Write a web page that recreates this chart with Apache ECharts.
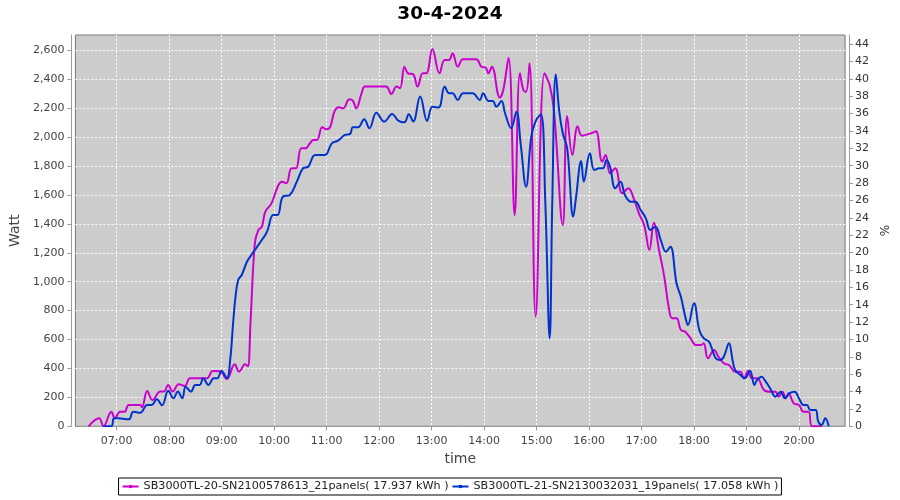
<!DOCTYPE html>
<html><head><meta charset="utf-8">
<script src="https://cdn.jsdelivr.net/npm/echarts@6/dist/echarts.min.js"></script>
<style>html,body{margin:0;padding:0;background:#fff}#c{width:900px;height:500px}</style>
</head><body><div id="c"></div>
<script>
const chartTitle = '30-4-2024';
const seriesNames = ['SB3000TL-20-SN2100578613_21panels( 17.937 kWh )', 'SB3000TL-21-SN2130032031_19panels( 17.058 kWh )'];
const hourTicks = ['07:00','08:00','09:00','10:00','11:00','12:00','13:00','14:00','15:00','16:00','17:00','18:00','19:00','20:00'];
const wattTicks = [0,200,400,600,800,1000,1200,1400,1600,1800,2000,2200,2400,2600];
const pctTicks = [0,2,4,6,8,10,12,14,16,18,20,22,24,26,28,30,32,34,36,38,40,42,44];

const magentaTimes = ['06:28','06:40','06:45','06:54','06:58','07:04','07:09','07:14','07:27','07:29','07:35','07:41','07:50','07:54','07:59','08:04','08:11','08:18','08:24','08:43','08:50','08:58','09:06','09:15','09:20','09:27','09:30','09:33','09:38','09:42','09:46','09:50','09:57','10:05','10:09','10:14','10:20','10:25','10:31','10:36','10:41','10:45','10:49','10:55','11:00','11:04','11:09','11:14','11:19','11:26','11:30','11:34','11:40','11:44','12:08','12:14','12:20','12:24','12:29','12:33','12:39','12:44','12:50','12:54','13:01','13:09','13:15','13:20','13:24','13:30','13:36','13:51','13:57','14:02','14:05','14:09','14:18','14:22','14:28','14:35','14:41','14:45','14:48','14:52','14:59','15:09','15:15','15:20','15:30','15:35','15:41','15:47','15:52','16:04','16:08','16:15','16:19','16:24','16:30','16:38','16:45','16:51','16:57','17:03','17:09','17:14','17:20','17:26','17:31','17:35','17:40','17:45','17:50','17:56','18:02','18:08','18:11','18:16','18:23','18:28','18:34','18:40','18:47','18:53','18:57','19:02','19:06','19:12','19:20','19:27','19:33','19:37','19:41','19:45','19:48','19:54','20:00','20:05','20:11','20:15','20:26'];
const magentaWatts = [0,55,0,100,55,100,100,147,147,131,244,182,240,240,286,240,290,279,332,332,382,380,327,429,378,429,415,712,1266,1357,1380,1484,1542,1669,1692,1680,1784,1784,1923,1923,1957,1980,1980,2068,2054,2068,2176,2206,2199,2261,2252,2199,2303,2349,2349,2298,2349,2338,2487,2441,2434,2349,2441,2441,2609,2441,2533,2533,2580,2487,2538,2538,2487,2480,2441,2487,2273,2326,2549,1461,2441,2326,2314,2510,758,2441,2360,2176,1392,2145,1876,2075,2010,2030,2040,1830,1876,1750,1784,1611,1646,1577,1473,1392,1219,1408,1219,1035,827,747,747,666,654,609,562,562,574,470,528,481,436,424,378,378,332,385,332,332,251,239,239,205,239,194,228,159,147,101,101,0,0];

const blueTimes = ['06:45','06:54','06:57','07:02','07:14','07:19','07:27','07:35','07:40','07:46','07:52','07:59','08:05','08:10','08:15','08:19','08:25','08:30','08:35','08:39','08:45','08:51','08:55','09:00','09:06','09:10','09:13','09:16','09:19','09:23','09:29','09:34','09:38','09:46','09:52','09:59','10:04','10:10','10:18','10:26','10:33','10:39','10:47','10:58','11:06','11:13','11:21','11:27','11:30','11:36','11:43','11:49','11:57','12:06','12:15','12:22','12:29','12:34','12:39','12:47','12:55','13:01','13:08','13:15','13:20','13:24','13:30','13:36','13:47','13:55','13:59','14:05','14:10','14:14','14:20','14:24','14:31','14:37','14:42','14:48','14:54','14:59','15:05','15:10','15:15','15:18','15:22','15:26','15:30','15:35','15:42','15:45','15:51','15:54','16:01','16:06','16:12','16:16','16:20','16:24','16:30','16:36','16:41','16:48','16:53','16:59','17:05','17:10','17:16','17:22','17:28','17:33','17:40','17:45','17:50','17:53','18:00','18:06','18:11','18:17','18:21','18:25','18:30','18:34','18:40','18:44','18:47','18:53','18:58','19:04','19:09','19:12','19:17','19:22','19:27','19:33','19:39','19:44','19:49','19:55','20:00','20:05','20:09','20:13','20:19','20:22','20:26','20:30','20:34'];
const blueWatts = [0,0,55,55,48,101,94,147,147,187,145,246,194,240,194,274,240,286,286,332,286,332,332,382,332,470,700,900,1012,1046,1138,1185,1219,1288,1346,1461,1461,1588,1600,1692,1784,1795,1876,1876,1957,1975,2015,2022,2068,2068,2123,2061,2169,2107,2160,2114,2102,2158,2107,2280,2111,2210,2204,2349,2303,2303,2257,2303,2303,2257,2303,2250,2250,2210,2250,2165,2061,2176,1946,1657,2003,2111,2158,1553,608,1553,2434,2176,2026,1923,1450,1577,1835,1692,1888,1773,1784,1784,1842,1796,1646,1692,1600,1553,1553,1496,1438,1358,1380,1288,1207,1242,989,896,758,700,851,666,609,585,528,470,459,481,574,459,389,355,332,385,286,320,343,309,263,205,239,194,228,239,194,147,147,113,113,32,9,55,0];

function toMin(s){const p=s.split(':');return (+p[0])*60+(+p[1]);}
function fmtMin(v){const h=Math.floor(v/60),m=Math.round(v-h*60);return String(h).padStart(2,'0')+':'+String(m).padStart(2,'0');}
const FONT='DejaVu Sans';
const xMin = 372.9, xMax = 1252.7;
const wMax = 2706, pMax = 45.05;

const chart = echarts.init(document.getElementById('c'), null, {renderer:'canvas'});
chart.setOption({
  animation:false,
  backgroundColor:'#ffffff',
  title:{text:chartTitle,left:'center',top:5,padding:0,textStyle:{fontFamily:FONT,fontSize:18.5,fontWeight:'bold',color:'#000'}},
  legend:{
    data:seriesNames,left:'center',top:478,orient:'horizontal',
    borderColor:'#000',borderWidth:1,padding:[3,3,3,3],itemGap:3,itemWidth:16,itemHeight:4,
    textStyle:{fontFamily:FONT,fontSize:11.2,color:'#222'}
  },
  grid:{left:75,top:35,width:771.5,height:391.3,show:true,backgroundColor:'#cccccc',borderColor:'#7a7a7a',borderWidth:1,containLabel:false},
  xAxis:{
    type:'value',min:xMin,max:xMax,position:'bottom',offset:4,
    name:'time',nameLocation:'middle',nameGap:22,
    nameTextStyle:{fontFamily:FONT,fontSize:14,color:'#444'},
    axisLine:{show:true,lineStyle:{color:'#9a9a9a',width:1}},
    axisTick:{show:true,length:4,inside:false,lineStyle:{color:'#9a9a9a'},customValues:hourTicks.map(toMin)},
    axisLabel:{fontFamily:FONT,fontSize:11,color:'#444',margin:5,formatter:fmtMin,customValues:hourTicks.map(toMin)},
    splitLine:{show:true,lineStyle:{color:'#ffffff',width:1,type:[2,2]}}
  },
  yAxis:[{
    type:'value',min:0,max:wMax,position:'left',offset:4,
    name:'Watt',nameLocation:'middle',nameGap:42,nameRotate:90,
    nameTextStyle:{fontFamily:FONT,fontSize:14,color:'#444'},
    axisLine:{show:true,lineStyle:{color:'#9a9a9a',width:1}},
    axisTick:{show:true,length:4,lineStyle:{color:'#9a9a9a'},customValues:wattTicks},
    axisLabel:{fontFamily:FONT,fontSize:11,color:'#444',margin:7,customValues:wattTicks,formatter:v=>Number(v).toLocaleString('en-US')},
    splitLine:{show:true,lineStyle:{color:'#ffffff',width:1,type:[2,2]}}
  },{
    type:'value',min:0,max:pMax,position:'right',offset:4,
    name:'%',nameLocation:'middle',nameGap:26,nameRotate:90,
    nameTextStyle:{fontFamily:FONT,fontSize:12,color:'#333'},
    axisLine:{show:true,lineStyle:{color:'#9a9a9a',width:1}},
    axisTick:{show:true,length:4,lineStyle:{color:'#9a9a9a'},customValues:pctTicks},
    axisLabel:{fontFamily:FONT,fontSize:11,color:'#333',margin:6,customValues:pctTicks},
    splitLine:{show:false}
  }],
  series:[{
    name:seriesNames[0],type:'line',yAxisIndex:0,smooth:0.4,
    symbol:'rect',symbolSize:3,showSymbol:false,
    lineStyle:{color:'#cc00cc',width:2},itemStyle:{color:'#cc00cc'},
    data:magentaTimes.map((t,i)=>[toMin(t),magentaWatts[i]])
  },{
    name:seriesNames[1],type:'line',yAxisIndex:0,smooth:0.4,
    symbol:'rect',symbolSize:3,showSymbol:false,
    lineStyle:{color:'#0033cc',width:2},itemStyle:{color:'#0033cc'},
    data:blueTimes.map((t,i)=>[toMin(t),blueWatts[i]])
  }]
});
</script></body></html>
